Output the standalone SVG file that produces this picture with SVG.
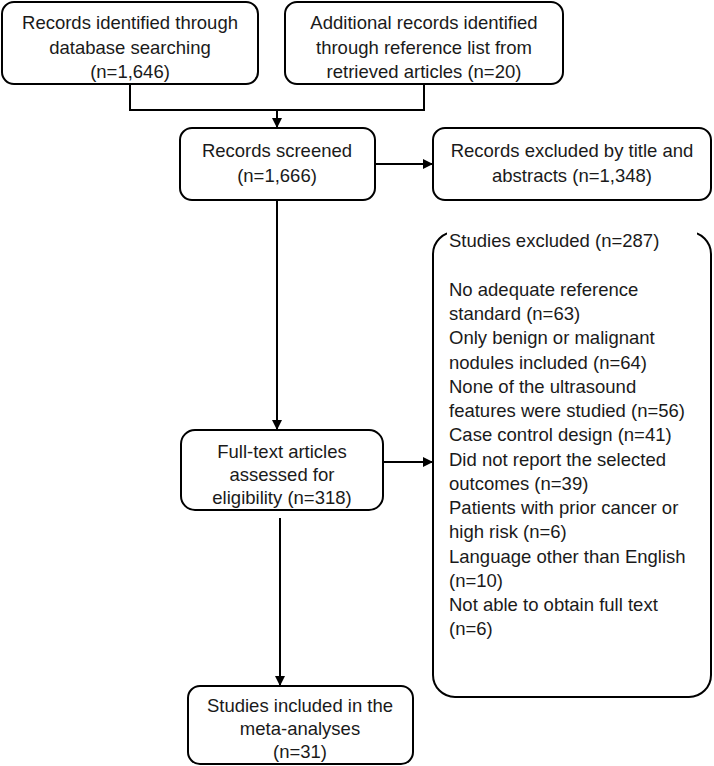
<svg xmlns="http://www.w3.org/2000/svg" width="714" height="766" viewBox="0 0 714 766">
<defs>
<style>
.box{fill:#fff;stroke:#000;stroke-width:2}
.t{font-family:"Liberation Sans",Arial,sans-serif;font-size:18.5px;fill:#1a1a1a;text-anchor:middle}
.l{font-family:"Liberation Sans",Arial,sans-serif;font-size:18.5px;fill:#1a1a1a}
.c{fill:none;stroke:#000;stroke-width:2}
</style>
<marker id="ah" viewBox="0 0 10 10" refX="10" refY="5" markerWidth="10" markerHeight="10" markerUnits="userSpaceOnUse" orient="auto">
<path d="M0,0 L10,5 L0,10 z" fill="#000"/>
</marker>
</defs>
<rect width="714" height="766" fill="#fff"/>
<g id="connectors">
<polyline class="c" points="130,84 130,110 424,110 424,84"/>
<line class="c" x1="277" y1="110" x2="277" y2="128" marker-end="url(#ah)"/>
<line class="c" x1="375" y1="164" x2="433" y2="164" marker-end="url(#ah)"/>
<line class="c" x1="277" y1="200" x2="277" y2="430" marker-end="url(#ah)"/>
<line class="c" x1="383" y1="462" x2="433" y2="462" marker-end="url(#ah)"/>
<line class="c" x1="280" y1="518" x2="280" y2="686" marker-end="url(#ah)"/>
</g>
<g id="n1">
<rect class="box" x="2" y="2" width="256" height="82" rx="12"/>
<text class="t" x="130" y="29">Records identified through</text>
<text class="t" x="130" y="54">database searching</text>
<text class="t" x="130" y="78">(n=1,646)</text>
</g>
<g id="n2">
<rect class="box" x="285" y="2" width="278" height="82" rx="12"/>
<text class="t" x="424" y="29">Additional records identified</text>
<text class="t" x="424" y="54">through reference list from</text>
<text class="t" x="424" y="78">retrieved articles (n=20)</text>
</g>
<g id="n3">
<rect class="box" x="180" y="128" width="195" height="72" rx="12"/>
<text class="t" x="277" y="157">Records screened</text>
<text class="t" x="277" y="182">(n=1,666)</text>
</g>
<g id="n4">
<rect class="box" x="433" y="128" width="278" height="72" rx="12"/>
<text class="t" x="572" y="157">Records excluded by title and</text>
<text class="t" x="572" y="182">abstracts (n=1,348)</text>
</g>
<g id="n5">
<rect class="box" x="433" y="232" width="278" height="465" rx="22"/>
<rect x="447" y="226" width="250" height="26" fill="#fff"/>
<text class="l" x="449" y="247">Studies excluded (n=287)</text>
<text class="l" x="449" y="296">No adequate reference</text>
<text class="l" x="449" y="320">standard (n=63)</text>
<text class="l" x="449" y="344">Only benign or malignant</text>
<text class="l" x="449" y="369">nodules included (n=64)</text>
<text class="l" x="449" y="393">None of the ultrasound</text>
<text class="l" x="449" y="417">features were studied (n=56)</text>
<text class="l" x="449" y="441">Case control design (n=41)</text>
<text class="l" x="449" y="466">Did not report the selected</text>
<text class="l" x="449" y="490">outcomes (n=39)</text>
<text class="l" x="449" y="514">Patients with prior cancer or</text>
<text class="l" x="449" y="538">high risk (n=6)</text>
<text class="l" x="449" y="563">Language other than English</text>
<text class="l" x="449" y="587">(n=10)</text>
<text class="l" x="449" y="611">Not able to obtain full text</text>
<text class="l" x="449" y="635">(n=6)</text>
</g>
<g id="n6">
<rect class="box" x="181" y="430" width="202" height="80" rx="14"/>
<text class="t" x="282" y="458">Full-text articles</text>
<text class="t" x="282" y="481">assessed for</text>
<text class="t" x="282" y="504">eligibility (n=318)</text>
</g>
<g id="n7">
<rect class="box" x="188" y="686" width="225" height="78" rx="12"/>
<text class="t" x="300" y="712">Studies included in the</text>
<text class="t" x="300" y="735">meta-analyses</text>
<text class="t" x="300" y="758">(n=31)</text>
</g>
</svg>
